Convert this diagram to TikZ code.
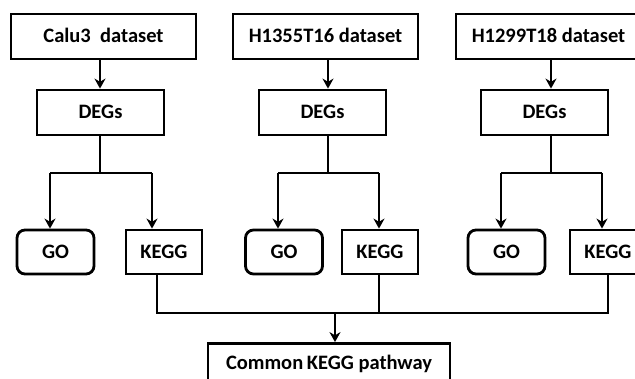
\documentclass[tikz,border=0pt]{standalone}
\usepackage{fontspec}
\setmainfont{Carlito}
\usetikzlibrary{arrows.meta}

\tikzset{
  box/.style={draw, line width=2.8pt, fill=white, inner sep=0pt,
    text height=13pt, text depth=0pt,
    font=\fontsize{20.5}{22}\selectfont\bfseries},
  databox/.style={box, minimum width=185pt, minimum height=45pt},
  degbox/.style={box, minimum width=127pt, minimum height=45pt},
  gobox/.style={box, rounded corners=8pt, minimum width=77pt, minimum height=44pt},
  keggbox/.style={box, minimum width=76pt, minimum height=44pt},
  link/.style={line width=2.8pt},
  arr/.style={link, -{Stealth[length=10pt,width=11pt]}},
}

\begin{document}
\begin{tikzpicture}[x=1pt,y=-1pt]
\useasboundingbox (0,0) rectangle (635,379);
\fill[white] (0,0) rectangle (635,379);
\clip (0,0) rectangle (635,379);

% datasets
\node[databox] (ds1) at (103.5,36.5) {Calu3\ \ dataset};
\node[databox] (ds2) at (325.5,36.5) {H1355T16 dataset};
\node[databox] (ds3) at (548.5,36.5) {H1299T18 dataset};

% DEGs
\node[degbox] (deg1) at (100.5,112.5) {DEGs};
\node[degbox] (deg2) at (322.5,112.5) {DEGs};
\node[degbox] (deg3) at (544.5,112.5) {DEGs};

% GO and KEGG
\node[gobox] (go1) at (55.5,252) {GO};
\node[keggbox] (kegg1) at (164,252) {KEGG};
\node[gobox] (go2) at (284,252) {GO};
\node[keggbox] (kegg2) at (380,252) {KEGG};
\node[gobox] (go3) at (506.5,252) {GO};
\node[keggbox] (kegg3) at (608,252) {KEGG};

\node[box, minimum width=242pt, minimum height=39pt] (common) at (329,363) {Common\hspace{-1pt} KEGG pathway};

% branch points
\coordinate (b1) at (100,173);
\coordinate (b1l) at (50,173);
\coordinate (b1r) at (152,173);
\coordinate (b2) at (328,173);
\coordinate (b2l) at (278,173);
\coordinate (b2r) at (379,173);
\coordinate (b3) at (551,173);
\coordinate (b3l) at (501,173);
\coordinate (b3r) at (602,173);
\coordinate (k1) at (157,313);
\coordinate (k2) at (379,313);
\coordinate (k3) at (608,313);
\coordinate (j) at (335,313);

\draw[arr] (ds1.south -| b1) -- (deg1.north -| b1);
\draw[arr] (ds2.south -| b2) -- (deg2.north -| b2);
\draw[arr] (ds3.south -| b3) -- (deg3.north -| b3);

\draw[link] (deg1.south -| b1) -- (b1);
\draw[link] (deg2.south -| b2) -- (b2);
\draw[link] (deg3.south -| b3) -- (b3);

\draw[link] (b1l) -- (b1r);
\draw[link] (b2l) -- (b2r);
\draw[link] (b3l) -- (b3r);

\draw[arr] (b1l) -- (b1l |- go1.north);
\draw[arr] (b1r) -- (b1r |- kegg1.north);
\draw[arr] (b2l) -- (b2l |- go2.north);
\draw[arr] (b2r) -- (b2r |- kegg2.north);
\draw[arr] (b3l) -- (b3l |- go3.north);
\draw[arr] (b3r) -- (b3r |- kegg3.north);

\draw[link] (kegg1.south -| k1) -- (k1) -- (k3) -- (kegg3.south -| k3);
\draw[link] (kegg2.south -| k2) -- (k2);
\draw[arr] (j) -- (common.north -| j);
\end{tikzpicture}
\end{document}
